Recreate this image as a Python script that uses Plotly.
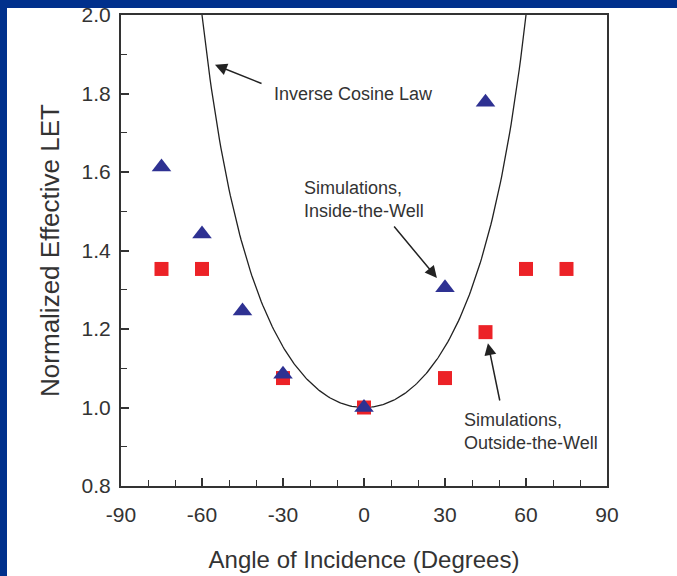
import numpy as np
import plotly.graph_objects as go

# Measured points
inside_angle = [-75, -60, -45, -30, 0, 30, 45]
inside_let = [1.613, 1.442, 1.246, 1.085, 1.0, 1.305, 1.778]

outside_angle = [-75, -60, -30, 0, 30, 45, 60, 75]
outside_let = [1.353, 1.353, 1.075, 1.0, 1.075, 1.192, 1.353, 1.353]

# Inverse cosine law reference curve
law_angle = np.linspace(-60, 60, 241)
law_let = 1.0 / np.cos(np.radians(law_angle))

x_ticks = [-90, -60, -30, 0, 30, 60, 90]
y_ticks = [0.8, 1.0, 1.2, 1.4, 1.6, 1.8, 2.0]

W, H = 677, 576
ML, MR, MT, MB = 121, 70, 15, 90
FONT = "Liberation Sans, Arial"

fig = go.Figure()
fig.add_trace(go.Scatter(x=law_angle, y=law_let, mode="lines",
                         line=dict(color="#222222", width=1.3),
                         showlegend=False, hoverinfo="skip"))
fig.add_trace(go.Scatter(x=outside_angle, y=outside_let, mode="markers",
                         marker=dict(symbol="square", size=14, color="#EC2227",
                                     line=dict(width=0)),
                         showlegend=False))
fig.add_trace(go.Scatter(x=inside_angle, y=inside_let, mode="markers",
                         marker=dict(symbol="triangle-up", size=17, color="#2E3192",
                                     line=dict(width=0)),
                         showlegend=False))

axis_common = dict(
    showgrid=False, zeroline=False, showline=True, linecolor="#333333",
    linewidth=2, mirror=True, ticks="inside", ticklen=8, tickwidth=1.5,
    tickcolor="#333333", tickfont=dict(family=FONT, size=21, color="#333333"),
    automargin=False,
)

fig.update_xaxes(range=[-90, 90], tickvals=x_ticks,
                 ticktext=[str(v) for v in x_ticks],
                 ticklabelstandoff=9,
                 minor=dict(dtick=10, tick0=0, ticks="inside", ticklen=6,
                            tickwidth=1.3, tickcolor="#333333"),
                 title=dict(text="Angle of Incidence (Degrees)",
                            font=dict(family=FONT, size=24, color="#333333"),
                            standoff=26),
                 **axis_common)
fig.update_yaxes(range=[0.8, 2.0], tickvals=y_ticks,
                 ticktext=[f"{v:.1f}" for v in y_ticks],
                 ticklabelstandoff=4,
                 minor=dict(dtick=0.1, tick0=0, ticks="inside", ticklen=6,
                            tickwidth=1.3, tickcolor="#333333"),
                 title=dict(text="Normalized Effective LET",
                            font=dict(family=FONT, size=26, color="#333333"),
                            standoff=14),
                 **axis_common)

ann_font = dict(family=FONT, size=18, color="#333333")
annotations = [
    dict(x=-34.1, y=1.80, text="Inverse Cosine Law", showarrow=False,
         xanchor="left", yanchor="middle", font=ann_font),
    dict(x=-23.0, y=1.53, text="Simulations,<br>Inside-the-Well", showarrow=False,
         xanchor="left", yanchor="middle", align="left", font=ann_font),
    dict(x=36.3, y=0.94, text="Simulations,<br>Outside-the-Well", showarrow=False,
         xanchor="left", yanchor="middle", align="left", font=ann_font),
]
arrows = [
    ((-37.4, 1.824), (-55.2, 1.873)),
    ((10.7, 1.465), (27.0, 1.330)),
    ((50.4, 1.014), (45.9, 1.164)),
]
for (tx, ty), (hx, hy) in arrows:
    annotations.append(dict(x=hx, y=hy, ax=tx, ay=ty, xref="x", yref="y",
                            axref="x", ayref="y", text="", showarrow=True,
                            arrowhead=2, arrowsize=1.6, arrowwidth=1.5,
                            arrowcolor="#222222", standoff=0))

# Dark blue frame strips along the top and left edges of the page
pw, ph = W - ML - MR, H - MT - MB
def px_x(p):
    return (p - ML) / pw
def px_y(p):
    return 1 - (p - MT) / ph
shapes = [
    dict(type="rect", xref="paper", yref="paper", x0=px_x(0), x1=px_x(W),
         y0=px_y(8), y1=px_y(0), fillcolor="#00308C", line=dict(width=0),
         layer="above"),
    dict(type="rect", xref="paper", yref="paper", x0=px_x(0), x1=px_x(7),
         y0=px_y(H), y1=px_y(0), fillcolor="#00308C", line=dict(width=0),
         layer="above"),
]

fig.update_layout(
    width=W, height=H,
    margin=dict(l=ML, r=MR, t=MT, b=MB),
    paper_bgcolor="white", plot_bgcolor="white",
    annotations=annotations, shapes=shapes,
)

fig.write_html("out.html")
